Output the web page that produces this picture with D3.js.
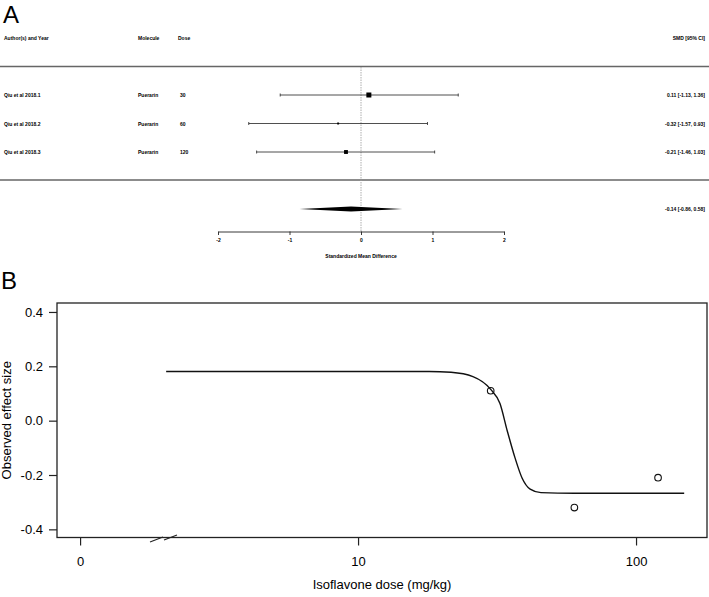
<!DOCTYPE html>
<html>
<head>
<meta charset="utf-8">
<script src="https://cdn.jsdelivr.net/npm/d3@7"></script>
<style>
  body { margin: 0; background: #fff; }
  svg { display: block; font-family: "Liberation Sans", Arial, sans-serif; }
</style>
</head>
<body>
<div id="chart"></div>
<script>
// panel A: forest plot
const studies = ["Qiu et al 2018.1", "Qiu et al 2018.2", "Qiu et al 2018.3"];
const molecules = ["Puerarin", "Puerarin", "Puerarin"];
const doses = [30, 60, 120];
const smd = [0.11, -0.32, -0.21];
const ciLow = [-1.13, -1.57, -1.46];
const ciHigh = [1.36, 0.93, 1.03];
const weights = [40, 6, 24];
const pooledEst = -0.14;
const pooledCi = [-0.86, 0.58];
const smdTicks = [-2, -1, 0, 1, 2];

// panel B: dose-response
const curveDose = [2.04, 12, 18, 21.6, 25.9, 30, 32.4, 34.4, 36.7, 38.9, 41.6, 45.5, 60, 149];
const curveEffect = [0.181, 0.181, 0.181, 0.178, 0.162, 0.115, 0.063, -0.037, -0.137, -0.211, -0.252, -0.265, -0.267, -0.267];
const effectTicks = [-0.4, -0.2, 0.0, 0.2, 0.4];
const doseTicks = [1, 10, 100];
const doseTickLabels = ["0", "10", "100"];

const width = 709, height = 597;
const fmt = v => v.toFixed(2);

const svg = d3.select("#chart").append("svg")
  .attr("width", width)
  .attr("height", height);

// ---------- panel A ----------
const A = svg.append("g");

A.append("text").attr("x", 3).attr("y", 23)
  .style("font-size", "24px").text("A");

const fx = d3.scaleLinear().domain([-2, 2]).range([218, 504]);
const fy = d3.scalePoint().domain(d3.range(studies.length)).range([95, 152]);

const small = "5px";
const headY = 40;
const headers = [
  { t: "Author(s) and Year", x: 4, anchor: "start" },
  { t: "Molecule", x: 138, anchor: "start" },
  { t: "Dose", x: 178, anchor: "start" },
  { t: "SMD [95% CI]", x: 705, anchor: "end" }
];
A.selectAll(".head").data(headers).enter().append("text")
  .attr("x", d => d.x).attr("y", headY)
  .attr("text-anchor", d => d.anchor)
  .style("font-size", small).style("font-weight", "bold")
  .text(d => d.t);

// separators
[66.5, 180].forEach(y => {
  A.append("line").attr("x1", 0).attr("x2", width)
    .attr("y1", y).attr("y2", y)
    .attr("stroke", "#666").attr("stroke-width", 1.4);
});

// zero reference line
A.append("line")
  .attr("x1", fx(0)).attr("x2", fx(0))
  .attr("y1", 67).attr("y2", 232)
  .attr("stroke", "#999").attr("stroke-width", 0.8)
  .attr("stroke-dasharray", "1.5,1");

const rows = A.selectAll(".row").data(studies.map((s, i) => i)).enter()
  .append("g").attr("class", "row");

rows.append("text").attr("x", 4).attr("y", i => fy(i) + 2)
  .style("font-size", small).style("font-weight", "bold").text(i => studies[i]);
rows.append("text").attr("x", 138).attr("y", i => fy(i) + 2)
  .style("font-size", small).style("font-weight", "bold").text(i => molecules[i]);
rows.append("text").attr("x", 180).attr("y", i => fy(i) + 2)
  .style("font-size", small).style("font-weight", "bold").text(i => doses[i]);
rows.append("text").attr("x", 705).attr("y", i => fy(i) + 2)
  .attr("text-anchor", "end")
  .style("font-size", small).style("font-weight", "bold")
  .text(i => `${fmt(smd[i])} [${fmt(ciLow[i])}, ${fmt(ciHigh[i])}]`);

rows.append("line")
  .attr("x1", i => fx(ciLow[i])).attr("x2", i => fx(ciHigh[i]))
  .attr("y1", i => fy(i)).attr("y2", i => fy(i))
  .attr("stroke", "#222").attr("stroke-width", 0.8);
rows.selectAll(".cap").data(i => [[i, ciLow[i]], [i, ciHigh[i]]]).enter()
  .append("line")
  .attr("x1", d => fx(d[1])).attr("x2", d => fx(d[1]))
  .attr("y1", d => fy(d[0]) - 1.5).attr("y2", d => fy(d[0]) + 1.5)
  .attr("stroke", "#222").attr("stroke-width", 0.8);

const boxSize = d3.scaleSqrt().domain([0, d3.max(weights)]).range([0, 5]);
rows.append("rect")
  .attr("x", i => fx(smd[i]) - boxSize(weights[i]) / 2)
  .attr("y", i => fy(i) - boxSize(weights[i]) / 2)
  .attr("width", i => boxSize(weights[i]))
  .attr("height", i => boxSize(weights[i]))
  .attr("fill", "#000");

// pooled diamond
const dy = 209, dh = 2.4;
A.append("path")
  .attr("d", `M${fx(pooledCi[0])},${dy} L${fx(pooledEst)},${dy - dh} L${fx(pooledCi[1])},${dy} L${fx(pooledEst)},${dy + dh} Z`)
  .attr("fill", "#000");
A.append("text").attr("x", 705).attr("y", dy + 2)
  .attr("text-anchor", "end")
  .style("font-size", small).style("font-weight", "bold")
  .text(`${fmt(pooledEst)} [${fmt(pooledCi[0])}, ${fmt(pooledCi[1])}]`);

const fAxis = A.append("g")
  .attr("transform", "translate(0,231.5)")
  .call(d3.axisBottom(fx).tickValues(smdTicks).tickSize(3.5).tickSizeOuter(0).tickPadding(3)
    .tickFormat(d => String(d)));
fAxis.selectAll("path, line").attr("stroke", "#222").attr("stroke-width", 0.9);
fAxis.selectAll("text").style("font-size", small).style("font-weight", "bold")
  .style("font-family", "Liberation Sans, Arial, sans-serif");

A.append("text").attr("x", fx(0)).attr("y", 258)
  .attr("text-anchor", "middle")
  .style("font-size", small).style("font-weight", "bold")
  .text("Standardized Mean Difference");

// ---------- panel B ----------
const B = svg.append("g");

B.append("text").attr("x", 1).attr("y", 289)
  .style("font-size", "24px").text("B");

const pLeft = 57, pRight = 707, pTop = 303, pBottom = 537.5;
const bx = d3.scaleLog().domain([0.826, 180]).range([pLeft, pRight]);
const by = d3.scaleLinear().domain([-0.43, 0.433]).range([pBottom, pTop]);

B.append("rect")
  .attr("x", pLeft).attr("y", pTop)
  .attr("width", pRight - pLeft).attr("height", pBottom - pTop)
  .attr("fill", "none").attr("stroke", "#222").attr("stroke-width", 1.3);

const yAxis = B.append("g")
  .attr("transform", `translate(${pLeft},0)`)
  .call(d3.axisLeft(by).tickValues(effectTicks).tickSize(8).tickPadding(6));
yAxis.select(".domain").remove();
yAxis.selectAll("line").attr("stroke", "#222").attr("stroke-width", 1.2);
yAxis.selectAll("text").style("font-size", "13px")
  .style("font-family", "Liberation Sans, Arial, sans-serif")
  .text(d => d.toFixed(1));

const xAxis = B.append("g")
  .attr("transform", `translate(0,${pBottom})`)
  .call(d3.axisBottom(bx).tickValues(doseTicks).tickSize(8).tickPadding(11)
    .tickFormat((d, i) => doseTickLabels[i]));
xAxis.select(".domain").remove();
xAxis.selectAll("line").attr("stroke", "#222").attr("stroke-width", 1.2);
xAxis.selectAll("text").style("font-size", "13px")
  .style("font-family", "Liberation Sans, Arial, sans-serif");

// axis break marks
B.append("line").attr("x1", 150).attr("y1", 542).attr("x2", 163).attr("y2", 537)
  .attr("stroke", "#222").attr("stroke-width", 1.1);
B.append("line").attr("x1", 164).attr("y1", 540).attr("x2", 177).attr("y2", 535)
  .attr("stroke", "#222").attr("stroke-width", 1.1);

B.append("text")
  .attr("transform", `translate(11,${(pTop + pBottom) / 2}) rotate(-90)`)
  .attr("text-anchor", "middle")
  .style("font-size", "13px")
  .text("Observed effect size");

B.append("text")
  .attr("x", (pLeft + pRight) / 2).attr("y", 589)
  .attr("text-anchor", "middle")
  .style("font-size", "13px")
  .text("Isoflavone dose (mg/kg)");

const line = d3.line()
  .x(i => bx(curveDose[i]))
  .y(i => by(curveEffect[i]))
  .curve(d3.curveMonotoneX);
B.append("path")
  .attr("d", line(d3.range(curveDose.length)))
  .attr("fill", "none").attr("stroke", "#111").attr("stroke-width", 1.4);

B.selectAll(".obs").data(doses.map((d, i) => i)).enter().append("circle")
  .attr("cx", i => bx(doses[i]))
  .attr("cy", i => by(smd[i]))
  .attr("r", 3.3)
  .attr("fill", "none").attr("stroke", "#111").attr("stroke-width", 1.1);
</script>
</body>
</html>
